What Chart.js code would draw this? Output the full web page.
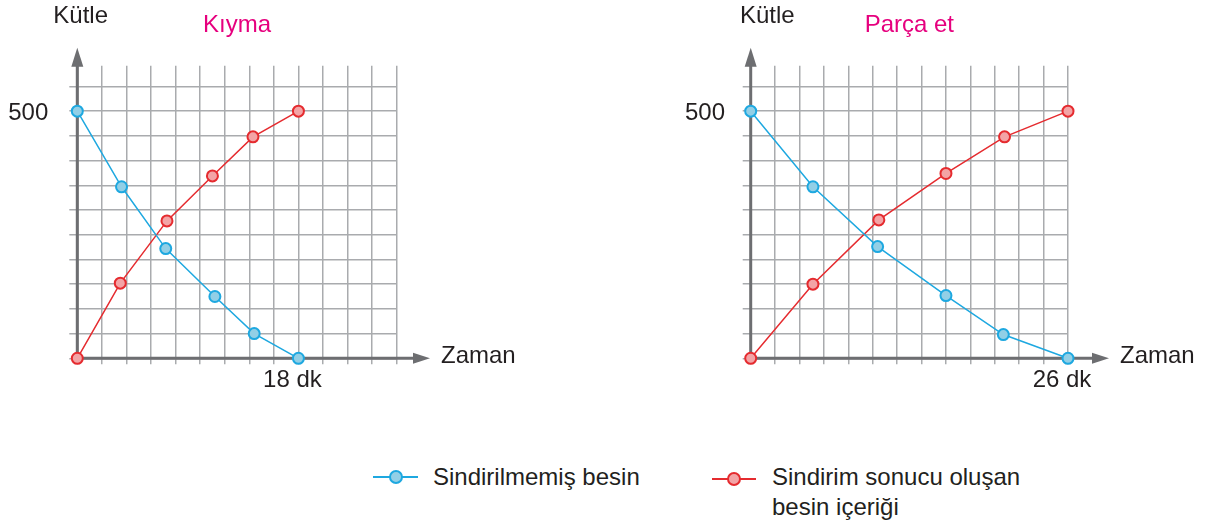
<!DOCTYPE html>
<html>
<head>
<meta charset="utf-8">
<script src="https://cdn.jsdelivr.net/npm/chart.js@4.4.1/dist/chart.umd.min.js"></script>
<style>
  body {
    margin: 0;
    width: 1207px;
    height: 523px;
    position: relative;
    overflow: hidden;
    background: #fff;
    font-family: "Liberation Sans", Arial, sans-serif;
    color: #231f20;
  }
  canvas { position: absolute; top: 0; }
  #kiyma { left: 0; }
  #parca { left: 600px; }
  .key-line { position: absolute; height: 2px; }
  .key-dot { position: absolute; width: 10px; height: 10px; border-radius: 50%; border: 2px solid; }
  .key-text { position: absolute; font-size: 24px; line-height: 30px; white-space: nowrap; }
</style>
</head>
<body>
<canvas id="kiyma" width="560" height="440"></canvas>
<canvas id="parca" width="607" height="440"></canvas>

<div class="key-line" style="left:373px; top:476px; width:45px; background:#1ea8e0"></div>
<div class="key-dot" style="left:389px; top:470px; background:#92cfe6; border-color:#1ea8e0"></div>
<div class="key-text" id="key-blue" style="left:433px; top:462px">Sindirilmemiş besin</div>

<div class="key-line" style="left:712px; top:478px; width:44px; background:#e52b2f"></div>
<div class="key-dot" style="left:727px; top:472px; background:#f3a4a6; border-color:#e52b2f"></div>
<div class="key-text" id="key-red" style="left:772px; top:462px">Sindirim sonucu oluşan<br>besin içeriği</div>

<script>
// grid steps shared by both panels
const xTicks = [0, 2, 4, 6, 8, 10, 12, 14, 16, 18, 20, 22, 24, 26];
const yTicks = [0, 50, 100, 150, 200, 250, 300, 350, 400, 450, 500, 550];
const yMax = 592;
const yLabelValue = 500;

// Kıyma (minced meat)
const kiymaEnd = 18;
const kiymaBlueTime = [0, 3.6, 7.2, 11.2, 14.4, 18];
const kiymaBlue = [500, 347, 222, 125, 50, 0];
const kiymaRedTime = [0, 3.5, 7.3, 11.0, 14.3, 18];
const kiymaRed = [0, 152, 278, 369, 448, 500];

// Parça et (piece of meat)
const parcaEnd = 26;
const parcaBlueTime = [0, 5.1, 10.4, 16.0, 20.7, 26];
const parcaBlue = [500, 347, 226, 127, 48, 0];
const parcaRedTime = [0, 5.1, 10.5, 16.0, 20.8, 26];
const parcaRed = [0, 150, 280, 374, 448, 500];

const textColor = '#231f20';
const axisColor = '#6d6e71';
const gridColor = '#a9abae';
const blue = '#1ea8e0', blueFill = '#92cfe6';
const red = '#e52b2f', redFill = '#f3a4a6';

Chart.defaults.font.family = '"Liberation Sans", Arial, sans-serif';
Chart.defaults.font.size = 24;
Chart.defaults.color = textColor;

const toPoints = (xs, ys) => xs.map((x, i) => ({ x: x, y: ys[i] }));

// thick axes with arrow heads + axis names
const axisArrows = {
  id: 'axisArrows',
  beforeDatasetsDraw(chart, args, opts) {
    const { ctx, chartArea, scales } = chart;
    const ox = scales.x.getPixelForValue(0);
    const oy = scales.y.getPixelForValue(0);
    const xTip = chartArea.right + opts.xReach;
    const yTip = chartArea.top - 18;
    ctx.save();
    ctx.strokeStyle = axisColor;
    ctx.fillStyle = axisColor;
    ctx.lineWidth = 3;
    ctx.beginPath();
    ctx.moveTo(ox, oy + 1.5);
    ctx.lineTo(ox, yTip + 16);
    ctx.moveTo(ox - 1.5, oy);
    ctx.lineTo(xTip - 14, oy);
    ctx.stroke();
    ctx.beginPath();
    ctx.moveTo(ox, yTip);
    ctx.lineTo(ox - 6, yTip + 19);
    ctx.lineTo(ox + 6, yTip + 19);
    ctx.closePath();
    ctx.fill();
    ctx.beginPath();
    ctx.moveTo(xTip, oy);
    ctx.lineTo(xTip - 17, oy - 5.5);
    ctx.lineTo(xTip - 17, oy + 5.5);
    ctx.closePath();
    ctx.fill();
    ctx.restore();
  },
  afterDraw(chart, args, opts) {
    const { ctx, chartArea, scales } = chart;
    const ox = scales.x.getPixelForValue(0);
    const oy = scales.y.getPixelForValue(0);
    ctx.save();
    ctx.font = '24px "Liberation Sans", Arial, sans-serif';
    ctx.fillStyle = textColor;
    ctx.textAlign = 'left';
    ctx.textBaseline = 'alphabetic';
    ctx.fillText('Kütle', ox + opts.yNameDx, 23);
    ctx.fillText('Zaman', chartArea.right + opts.xReach + 11, oy + 5);
    ctx.restore();
  }
};

function makePanel(id, title, endTime, blueTime, blueVals, redTime, redVals, geo) {
  const yAxisWidth = 8 + geo.labelGap + 40;
  return new Chart(document.getElementById(id), {
    type: 'line',
    data: {
      datasets: [
        {
          label: 'Sindirilmemiş besin',
          data: toPoints(blueTime, blueVals),
          borderColor: blue,
          backgroundColor: blueFill,
          borderWidth: 1.5,
          pointRadius: 5.5,
          pointBorderWidth: 2,
          pointBorderColor: blue,
          pointBackgroundColor: blueFill,
          tension: 0,
          clip: false,
        },
        {
          label: 'Sindirim sonucu oluşan besin içeriği',
          data: toPoints(redTime, redVals),
          borderColor: red,
          backgroundColor: redFill,
          borderWidth: 1.5,
          pointRadius: 5.5,
          pointBorderWidth: 2,
          pointBorderColor: red,
          pointBackgroundColor: redFill,
          tension: 0,
          clip: false,
        },
      ],
    },
    options: {
      responsive: false,
      animation: false,
      events: [],
      layout: {
        padding: { left: geo.left - yAxisWidth, right: geo.right, top: 0, bottom: 42.9 },
      },
      plugins: {
        legend: { display: false },
        tooltip: { enabled: false },
        title: {
          display: true,
          text: title,
          color: '#e6007e',
          fullSize: false,
          font: { size: 24, weight: 'normal' },
          padding: { top: 10.5, bottom: 26.4 },
        },
        axisArrows: { xReach: geo.xReach, yNameDx: geo.yNameDx },
      },
      scales: {
        x: {
          type: 'linear',
          min: 0,
          max: 26,
          border: { display: false },
          grid: { color: gridColor, lineWidth: 1.5, tickLength: 6 },
          afterBuildTicks: (scale) => {
            scale.ticks = xTicks.map((v) => ({ value: v }));
          },
          ticks: {
            autoSkip: false,
            maxRotation: 0,
            minRotation: 0,
            padding: 2,
            labelOffset: -6,
            color: textColor,
            callback: (v) => (v === endTime ? endTime + ' dk' : ''),
          },
        },
        y: {
          min: 0,
          max: yMax,
          border: { display: false },
          grid: { color: gridColor, lineWidth: 1.5, tickLength: 8 },
          afterBuildTicks: (scale) => {
            scale.ticks = yTicks.map((v) => ({ value: v }));
          },
          afterFit: (scale) => {
            scale.width = yAxisWidth;
          },
          ticks: {
            autoSkip: false,
            padding: geo.labelGap,
            labelOffset: 2,
            color: textColor,
            callback: (v) => (v === yLabelValue ? String(yLabelValue) : ''),
          },
        },
      },
    },
    plugins: [axisArrows],
  });
}

makePanel('kiyma', 'Kıyma', kiymaEnd, kiymaBlueTime, kiymaBlue, kiymaRedTime, kiymaRed,
  { left: 77.3, right: 163.3, labelGap: 21, xReach: 33.3, yNameDx: -24 });
makePanel('parca', 'Parça et', parcaEnd, parcaBlueTime, parcaBlue, parcaRedTime, parcaRed,
  { left: 150.7, right: 139, labelGap: 17.7, xReach: 41, yNameDx: -10.7 });
</script>
</body>
</html>
